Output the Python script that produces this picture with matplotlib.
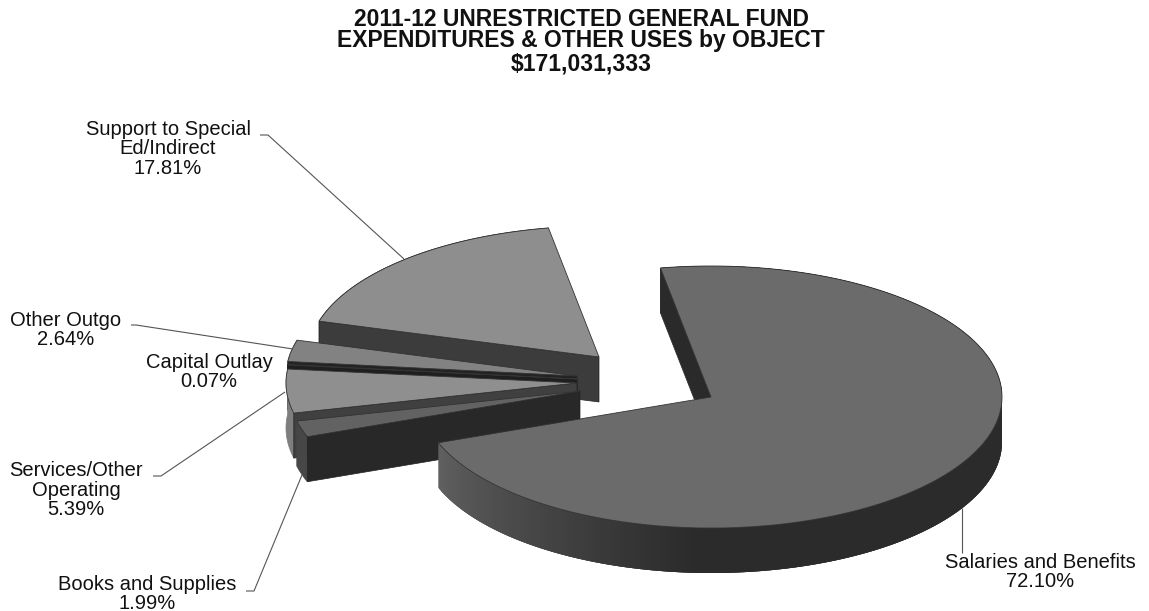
import numpy as np
import matplotlib
matplotlib.use('Agg')
import matplotlib.pyplot as plt
from matplotlib.patches import Polygon

# dados da figura
categorias = ['Salaries and Benefits', 'Books and Supplies', 'Services/Other\nOperating',
              'Capital Outlay', 'Other Outgo', 'Support to Special\nEd/Indirect']
valores = [72.10, 1.99, 5.39, 0.07, 2.64, 17.81]
titulo = ['2011-12 UNRESTRICTED GENERAL FUND', 'EXPENDITURES & OTHER USES by OBJECT', '$171,031,333']

# layout, em pixels da imagem
apices = [(711, 397), (580, 391), (577, 383), (577, 379), (577, 376), (599, 357)]
cor_topo = ['#6b6b6b', '#626262', '#8f8f8f', '#1f1f1f', '#828282', '#8e8e8e']
cor_borda = ['#2b2b2b', '#474747', '#7e7e7e', '#1f1f1f', '#6a6a6a', '#3c3c3c']
cor_corte = ['#2a2a2a', '#282828', '#404040', '#1f1f1f', '#232323', '#3c3c3c']
pos_texto = [(1040, 572), (147, 594), (76, 490), (209, 372), (66, 330), (168, 149)]
guias = [[(962, 508), (962, 553)],
         [(246, 591), (254, 591), (302, 475)],
         [(153, 476), (161, 476), (285, 392)],
         None,
         [(131, 325), (136, 325), (293, 349)],
         [(260, 135), (268, 135), (404, 259)]]
rx, ry, prof = 291, 131, 45
inicio = -10.0

fig = plt.figure(figsize=(11.49, 6.11), dpi=100)
ax = fig.add_axes([0, 0, 1, 1])
ax.set_xlim(0, 1149)
ax.set_ylim(611, 0)
ax.axis('off')
plt.rcParams['font.family'] = ['Liberation Sans', 'DejaVu Sans']


def ponto(apice, ang):
    t = np.radians(ang)
    return apice[0] + rx * np.sin(t), apice[1] - ry * np.cos(t)


def arco(apice, a1, a2):
    angs = np.linspace(a1, a2, max(int(abs(a2 - a1)) * 2, 2))
    return [ponto(apice, a) for a in angs]


def desce(pts):
    return [(x, y + prof) for x, y in pts]


# calcula os angulos a partir dos valores
fatias = []
a = inicio
total = sum(valores)
for i, v in enumerate(valores):
    fatias.append((i, a, a + v / total * 360))
    a = a + v / total * 360

# desenha de tras para frente
for i, a1, a2 in reversed(fatias):
    ap = apices[i]
    if i == 0:
        # borda com degrade, cada pedaco sobrepoe o seguinte para nao marcar emenda
        cor_a = np.array([0x2b, 0x2b, 0x2b]) / 255
        cor_b = np.array([0x5f, 0x5f, 0x5f]) / 255
        angs = np.arange(a1, a2, 1.0)
        for ang in angs:
            f = np.clip((ang - 185) / (a2 - 185), 0, 1)
            c = tuple(cor_a + (cor_b - cor_a) * f)
            seg = arco(ap, max(ang - 2.0, a1), min(ang + 1.0, a2))
            ax.add_patch(Polygon(seg + desce(seg)[::-1], closed=True, fc=c, ec='none'))
        p = ponto(ap, a1)
        ax.add_patch(Polygon([ap, p, (p[0], p[1] + prof), (ap[0], ap[1] + prof)],
                             closed=True, fc=cor_corte[i], ec=cor_corte[i], lw=0.5))
    else:
        seg = arco(ap, a1, a2)
        ax.add_patch(Polygon(seg + desce(seg)[::-1], closed=True, fc=cor_borda[i], ec=cor_borda[i], lw=0.5))
        p = ponto(ap, a1)
        ax.add_patch(Polygon([ap, p, (p[0], p[1] + prof), (ap[0], ap[1] + prof)],
                             closed=True, fc=cor_corte[i], ec='#222222', lw=0.5))
    topo = [ap] + arco(ap, a1, a2)
    ax.add_patch(Polygon(topo, closed=True, fc=cor_topo[i], ec='#333333', lw=0.6))

# linhas guia
for g in guias:
    if g is not None:
        ax.plot([q[0] for q in g], [q[1] for q in g], color='#555555', lw=0.8, solid_capstyle='butt')

# rotulos
for nome, v, pos in zip(categorias, valores, pos_texto):
    ax.text(pos[0], pos[1], f'{nome}\n{v:.2f}%', ha='center', va='center', fontsize=14.5,
            color='#111111', linespacing=1.03)

for txt, y in zip(titulo, [19, 41, 64]):
    ax.text(581, y, txt, ha='center', va='center', fontsize=16.5, fontweight='bold', color='#111111')

fig.savefig('out.png', dpi=100, facecolor='white')
